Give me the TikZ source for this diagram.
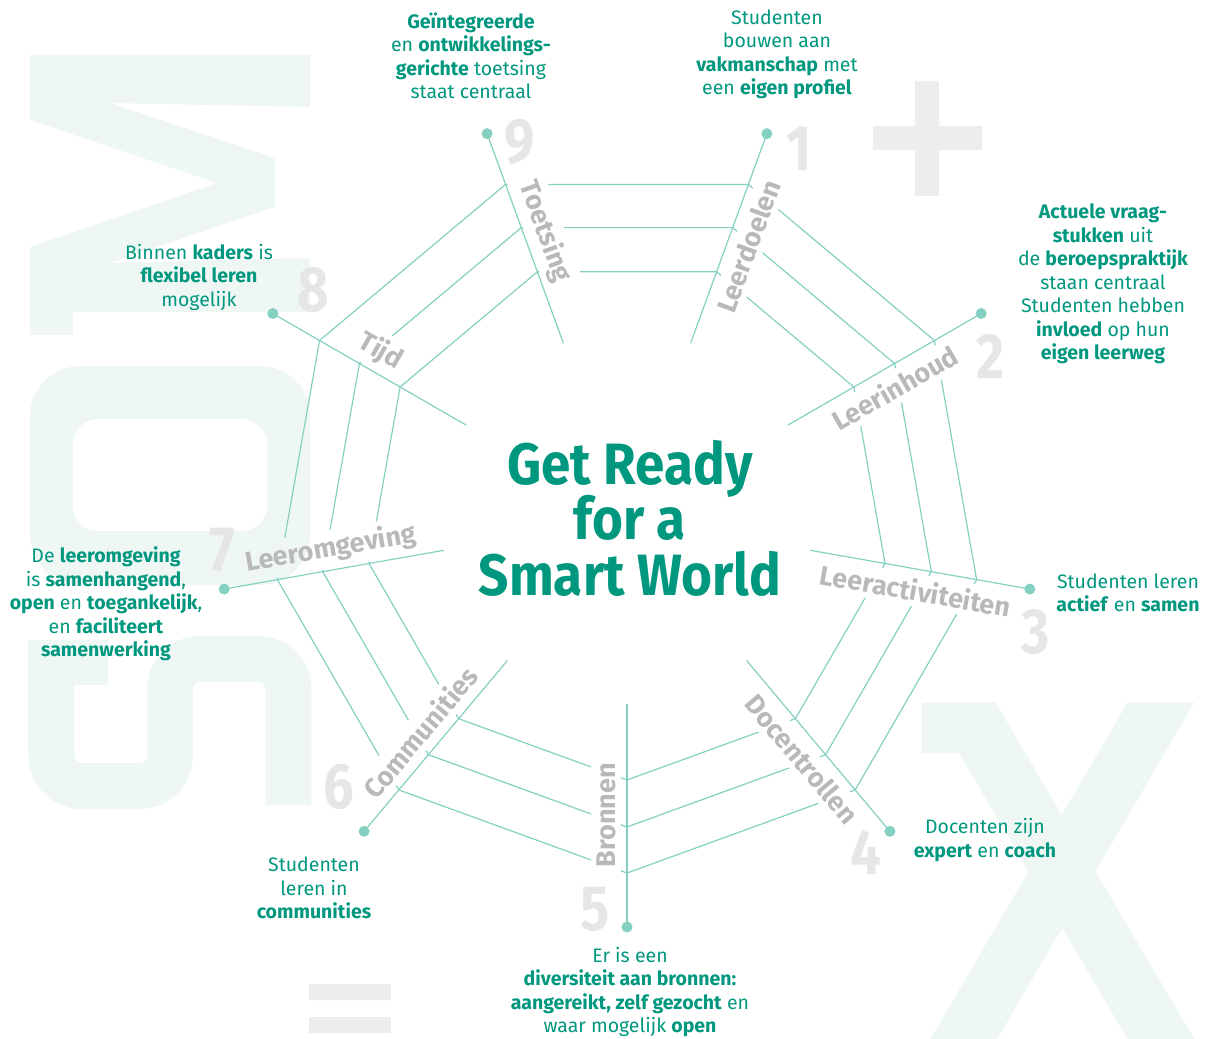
\documentclass[tikz,border=0pt]{standalone}
\usepackage{fontspec}
\setmainfont{Fira Sans}
\definecolor{gteal}{HTML}{00977F}
\definecolor{gline}{HTML}{84D0C1}
\definecolor{ggrey}{HTML}{B9B9B9}
\definecolor{gnum}{HTML}{E6E6E6}
\definecolor{gbg}{HTML}{EFF7F5}
\definecolor{gsym}{HTML}{EDEDED}
\begin{document}
\begin{tikzpicture}[x=1pt,y=1pt,
    spokeline/.style={gline, line width=1.2pt},
    ringline/.style={gline, line width=1.2pt},
    enddot/.style={circle, fill=gline, inner sep=0pt, minimum size=11pt},
    axislabel/.style={text=ggrey, inner sep=5pt, font=\fontsize{27}{27}\selectfont\bfseries},
    notetext/.style={text=gteal, align=center, inner sep=0pt, font=\fontsize{19.5}{23.5}\selectfont},
    bignum/.style={text=gnum, xscale=0.85, font=\fontsize{64}{64}\selectfont\bfseries},
    titletext/.style={text=gteal, anchor=base, yscale=1.1, font=\fontsize{53}{53}\selectfont\bfseries}]
  \useasboundingbox (-627,-521) rectangle (584,518);
  % background letters S O M and the signs + x =
  \begin{scope}[shift={(-627,518)}, yscale=-1]
    \fill[gbg] (30,55) -- (310,55) -- (310,107) -- (110,103) -- (275,158) -- (275,207) -- (110,263) -- (310,258) -- (310,312) -- (73,312) -- (73,335) -- (30,335) -- (30,247) -- (217,183) -- (30,120) -- cycle;
    \fill[gbg, even odd rule] [rounded corners=50pt] (30,366) rectangle (310,585) [rounded corners=25pt] (73,419) rectangle (267,531);
    \draw[gbg, line width=46pt, rounded corners=30pt] (51.5,640) -- (51.5,786) -- (170,786) -- (170,659) -- (288.5,659) -- (288.5,805);
    \fill[gbg] (30,640) rectangle (108,685);
    \fill[gbg] (921.9,702.4) -- (995.5,702.4) -- (1194.5,1039) -- (1127.6,1039) -- (958.7,753) -- (921.9,753) -- cycle;
    \fill[gbg] (1127.6,702.4) -- (1194.5,702.4) -- (997.2,1039) -- (930.3,1039) -- cycle;
    \fill[gsym] (915,81) rectangle (939,196) (873,126) rectangle (982,150);
    \fill[gsym] (309,984) rectangle (391,1000) (309,1017) rectangle (391,1033);
  \end{scope}
  % big numbers
  \foreach \n/\x/\y in {1/172/369, 2/364/162, 3/409/-114, 4/239/-334, 5/-32/-391, 6/-288/-269, 7/-405/-32, 8/-314/228, 9/-107/376}
    \node[bignum] (num\n) at (\x,\y) {\n};
  % labels beside the spokes
  \foreach \n/\a/\r/\t in {1/70/70/Leerdoelen, 2/30/30/Leerinhoud, 3/-10/-10/Leeractiviteiten, 4/-50/-50/Docentrollen, 5/-90/90/Bronnen, 6/-130/50/Communities, 7/-170/10/Leeromgeving, 8/-210/-30/Tijd, 9/-250/-70/Toetsing}
    \path (\a:297) ++(\a-90:21) node[axislabel, rotate=\r] (lbl\n) {\t};
  % rings, broken at the labels
  \begin{scope}[even odd rule]
    \clip (-627,-521) rectangle (584,518)
      \foreach \n in {1,...,9} {(lbl\n.north west) -- (lbl\n.north east) -- (lbl\n.south east) -- (lbl\n.south west) -- cycle};
    \foreach \r in {262,309,355}
      \draw[ringline] (70:\r) \foreach \k in {1,...,8} {-- (70-40*\k:\r)} -- cycle;
  \end{scope}
  % spokes
  \foreach \n/\a in {1/70, 2/30, 3/-10, 4/-50, 5/-90, 6/-130, 7/-170, 8/-210, 9/-250} {
    \coordinate (in\n) at (\a:186);
    \node[enddot] (dot\n) at (\a:409) {};
    \draw[spokeline] (in\n) -- (dot\n.center);
  }
  % title
  \node[titletext] (title1) at (3,33) {Get Ready};
  \node[titletext] (title2) at (3,-21) {for a};
  \node[titletext] (title3) at (3,-77) {Smart World};
  % texts at the dots
  \node[notetext] (note1) at (150,463.5) {Studenten\\bouwen aan\\\textbf{vakmanschap} met\\een \textbf{eigen profiel}};
  \node[notetext] (note2) at (476,234) {\textbf{Actuele vraag-}\\\textbf{stukken} uit\\de \textbf{beroepspraktijk}\\staan centraal\\Studenten hebben\\\textbf{invloed} op hun\\\textbf{eigen leerweg}};
  \node[notetext] (note3) at (501,-75) {Studenten leren\\\textbf{actief} en \textbf{samen}};
  \node[notetext] (note4) at (358,-322) {Docenten zijn\\\textbf{expert} en \textbf{coach}};
  \node[notetext] (note5) at (3,-474) {Er is een\\\textbf{diversiteit aan bronnen:}\\\textbf{aangereikt, zelf gezocht} en\\waar mogelijk \textbf{open}};
  \node[notetext] (note6) at (-313,-370) {Studenten\\leren in\\\textbf{communities}};
  \node[notetext] (note7) at (-521,-86) {De \textbf{leeromgeving}\\is \textbf{samenhangend},\\\textbf{open} en \textbf{toegankelijk},\\en \textbf{faciliteert}\\\textbf{samenwerking}};
  \node[notetext] (note8) at (-428,241) {Binnen \textbf{kaders} is\\\textbf{flexibel leren}\\mogelijk};
  \node[notetext] (note9) at (-156,462) {\textbf{Geïntegreerde}\\en \textbf{ontwikkelings-}\\\textbf{gerichte} toetsing\\staat centraal};
\end{tikzpicture}
\end{document}
